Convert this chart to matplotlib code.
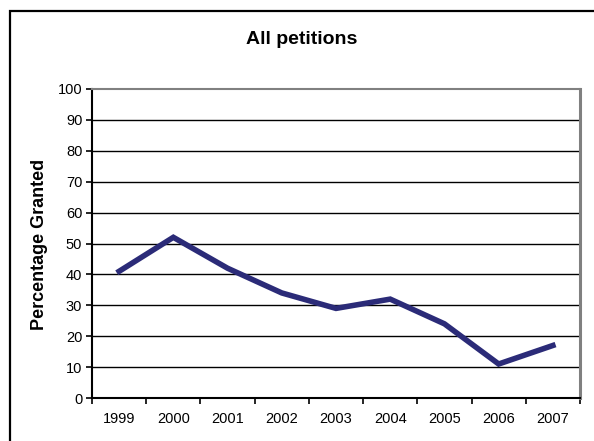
import matplotlib.pyplot as plt
from matplotlib.patches import Rectangle
import numpy as np

plt.rcParams['font.family'] = ['Liberation Sans', 'DejaVu Sans']

years = ['1999', '2000', '2001', '2002', '2003', '2004', '2005', '2006', '2007']
pct_granted = [41, 52, 42, 34, 29, 32, 24, 11, 17]

fig = plt.figure(figsize=(5.94, 4.41), dpi=100)

# chart frame, only its top and left edges fall inside the image
fig.patches.append(Rectangle((10 / 594, -0.5), 2, 1.5 - 11 / 441, transform=fig.transFigure,
                             fill=False, edgecolor='black', linewidth=1.6))

ax = fig.add_axes([92 / 594, 1 - 398 / 441, (580 - 92) / 594, (398 - 89) / 441])

x = np.arange(len(years)) + 0.5
ax.plot(x, pct_granted, color='#2B2B78', linewidth=4.0, solid_joinstyle='miter', zorder=3)

ax.set_xlim(0, len(years))
ax.set_ylim(0, 100)
ax.set_yticks(range(0, 101, 10))
ax.set_xticks(range(0, len(years) + 1))
ax.set_xticklabels([])
ax.set_xticks(x, minor=True)
ax.set_xticklabels(years, minor=True)
ax.tick_params(axis='x', which='minor', length=0, pad=10, labelsize=10.5)
ax.tick_params(axis='x', which='major', length=4, width=1.2, direction='out')
ax.tick_params(axis='y', length=4, width=1.2, direction='out', labelsize=10.5, pad=3)

for v in range(10, 100, 10):
    ax.axhline(v, color='black', linewidth=1.0, zorder=1)

ax.spines['left'].set_linewidth(1.5)
ax.spines['bottom'].set_linewidth(1.5)
ax.spines['top'].set_color('#808080')
ax.spines['top'].set_linewidth(1.5)
ax.spines['right'].set_color('#808080')
ax.spines['right'].set_linewidth(2.2)

fig.text(40 / 594, 1 - 244 / 441, 'Percentage Granted', rotation=90, ha='center', va='center',
         fontsize=13, fontweight='bold')
fig.text(302 / 594, 1 - 40 / 441, 'All petitions', ha='center', va='center',
         fontsize=14, fontweight='bold')

fig.savefig('out.png', dpi=100)
